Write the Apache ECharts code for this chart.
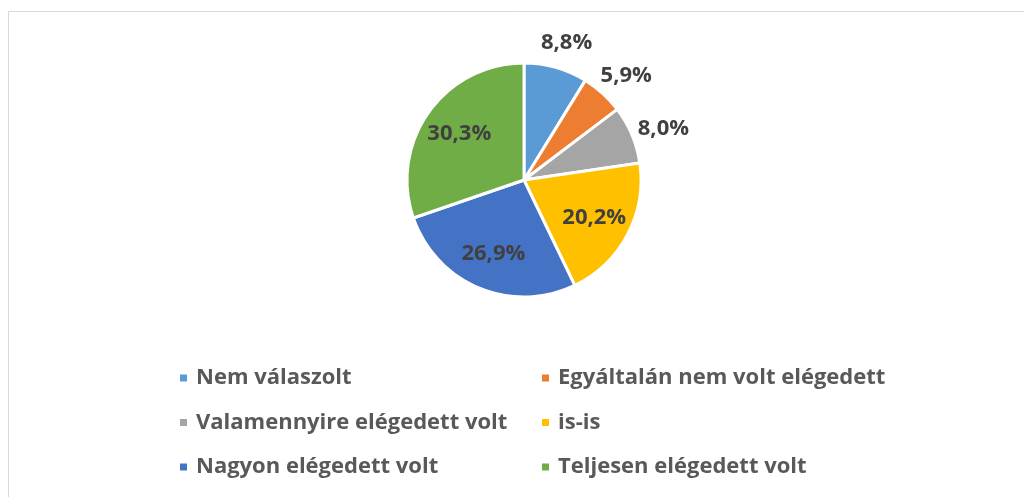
<!DOCTYPE html>
<html>
<head>
<meta charset="utf-8">
<script src="https://cdn.jsdelivr.net/npm/echarts@6/dist/echarts.min.js"></script>
<style>
  html, body { margin: 0; padding: 0; background: #fff; }
  #chart { width: 1024px; height: 497px; }
</style>
</head>
<body>
<div id="chart"></div>
<script>
const categories = [
  'Nem válaszolt',
  'Egyáltalán nem volt elégedett',
  'Valamennyire elégedett volt',
  'is-is',
  'Nagyon elégedett volt',
  'Teljesen elégedett volt',
];
const shares = [8.8, 5.9, 8.0, 20.2, 26.9, 30.3];
const colors = ['#5B9BD5', '#ED7D31', '#A5A5A5', '#FFC000', '#4472C4', '#70AD47'];
// small slices get their label outside the pie
const outsideLabel = [true, true, true, false, false, false];

const fontFamily = '"Open Sans", sans-serif';
const fmt = (v) => v.toFixed(1).replace('.', ',') + '%';

const chart = echarts.init(document.getElementById('chart'));

const pieData = categories.map((name, i) => ({
  name,
  value: shares[i],
  itemStyle: { color: colors[i] },
}));

// transparent overlay series used only to place the percentage labels
const labelData = (outside) =>
  categories.map((name, i) => ({
    name,
    value: shares[i],
    label: { show: outsideLabel[i] === outside },
  }));

const labelStyle = {
  position: 'inside',
  formatter: (p) => fmt(p.value),
  color: '#404040',
  fontFamily,
  fontWeight: 'bold',
  fontSize: 22,
};

const legendText = {
  color: '#595959',
  fontFamily,
  fontWeight: 'bold',
  fontSize: 22,
  lineHeight: 22,
  padding: [0, 0, 0, 3],
};

const option = {
  animation: false,
  color: colors,
  graphic: [
    {
      type: 'rect',
      shape: { x: 8.5, y: 11.5, width: 1030, height: 500 },
      style: { fill: 'none', stroke: '#D9D9D9', lineWidth: 1 },
      silent: true,
    },
  ],
  legend: [
    {
      orient: 'vertical',
      left: 173,
      top: 362,
      itemWidth: 9,
      itemHeight: 9,
      itemGap: 22.5,
      icon: 'rect',
      data: [categories[0], categories[2], categories[4]],
      textStyle: legendText,
    },
    {
      orient: 'vertical',
      left: 535,
      top: 362,
      itemWidth: 9,
      itemHeight: 9,
      itemGap: 22.5,
      icon: 'rect',
      data: [categories[1], categories[3], categories[5]],
      textStyle: legendText,
    },
  ],
  series: [
    {
      type: 'pie',
      center: [524, 180],
      radius: [0, 117],
      startAngle: 90,
      clockwise: true,
      silent: true,
      label: { show: false },
      labelLine: { show: false },
      itemStyle: { borderColor: '#fff', borderWidth: 3 },
      data: pieData,
    },
    {
      type: 'pie',
      center: [524, 180],
      radius: [36, 117],
      startAngle: 90,
      silent: true,
      legendHoverLink: false,
      itemStyle: { color: 'rgba(0,0,0,0)' },
      label: labelStyle,
      labelLine: { show: false },
      data: labelData(false),
    },
    {
      type: 'pie',
      center: [524, 180],
      radius: [124, 168],
      startAngle: 90,
      silent: true,
      legendHoverLink: false,
      itemStyle: { color: 'rgba(0,0,0,0)' },
      label: Object.assign({}, labelStyle, { offset: [2, 6] }),
      labelLine: { show: false },
      data: labelData(true),
    },
  ],
};

chart.setOption(option);
</script>
</body>
</html>
